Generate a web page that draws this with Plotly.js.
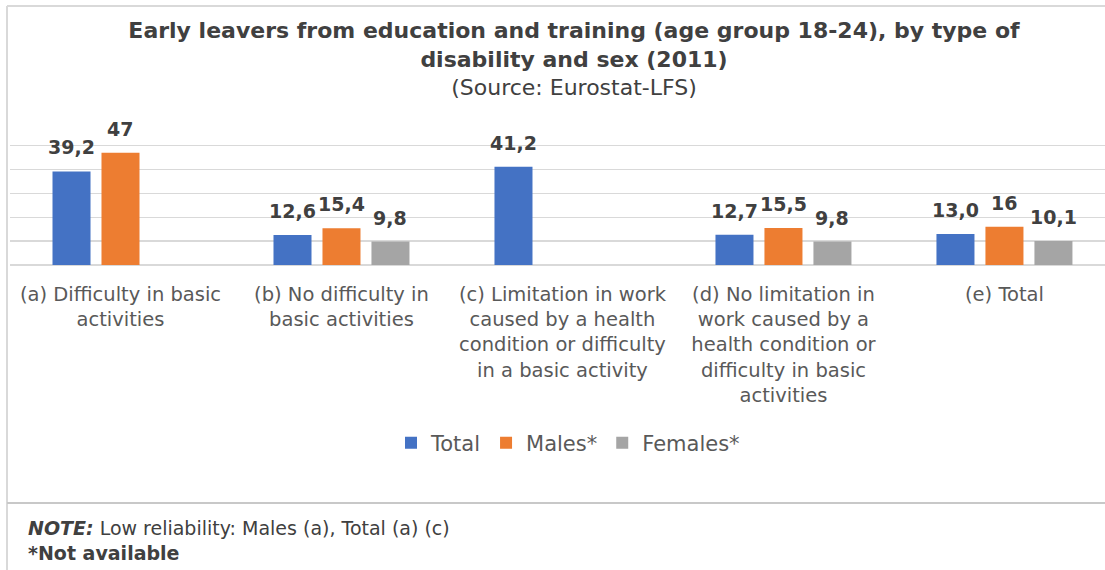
<!DOCTYPE html>
<html>
<head>
<meta charset="utf-8">
<script src="https://cdn.plot.ly/plotly-3.0.1.min.js"></script>
<style>
  html, body { margin: 0; padding: 0; background: #ffffff; }
  #chart { width: 1105px; height: 570px; }
</style>
</head>
<body>
<div id="chart"></div>
<script>
// ---- Data ----
const categories = [
  "(a) Difficulty in basic<br>activities",
  "(b) No difficulty in<br>basic activities",
  "(c) Limitation in work<br>caused by a health<br>condition or difficulty<br>in a basic activity",
  "(d) No limitation in<br>work caused by a<br>health condition or<br>difficulty in basic<br>activities",
  "(e) Total"
];
const seriesNames = ["Total", "Males*", "Females*"];
const totalValues   = [39.2, 12.6, 41.2, 12.7, 13.0];
const malesValues   = [47, 15.4, null, 15.5, 16];
const femalesValues = [null, 9.8, null, 9.8, 10.1];
const totalLabels   = ["39,2", "12,6", "41,2", "12,7", "13,0"];
const malesLabels   = ["47", "15,4", "", "15,5", "16"];
const femalesLabels = ["", "9,8", "", "9,8", "10,1"];
const gridTicks = [0, 10, 20, 30, 40, 50];

// ---- Style ----
const FONT = "DejaVu Sans, Verdana, Tahoma, sans-serif";
const colors = ["#4472C4", "#ED7D31", "#A5A5A5"];
const W = 1105, H = 570;
const M = {l: 10, r: 0, t: 143, b: 305};
const plotW = W - M.l - M.r, plotH = H - M.t - M.b;
const xRange = [-0.5, 4.455];
const yRange = [0, 51.13];
const bargap = 0.335, bargroupgap = 0.224;

const values = [totalValues, malesValues, femalesValues];
const labels = [totalLabels, malesLabels, femalesLabels];

const traces = values.map((vals, i) => ({
  type: "bar",
  name: seriesNames[i],
  x: categories,
  y: vals,
  marker: {color: colors[i]},
  hoverinfo: "skip"
}));

// px helpers for decoration placement (paper coords)
const px2x = px => (px - M.l) / plotW;
const px2y = py => (H - M.b - py) / plotH;

// value labels above bars, positioned through the category axis
const catPx = plotW / (xRange[1] - xRange[0]);
const slotPx = catPx * (1 - bargap) / values.length;
const annotations = [];
values.forEach((vals, i) => {
  vals.forEach((v, j) => {
    if (v === null || labels[i][j] === "") return;
    annotations.push({
      x: categories[j], y: v, xref: "x", yref: "y",
      xshift: (i - (values.length - 1) / 2) * slotPx,
      yshift: 11,
      yanchor: "bottom", xanchor: "center",
      showarrow: false,
      text: "<b>" + labels[i][j] + "</b>",
      font: {family: FONT, size: 19, color: "#404040"}
    });
  });
});

annotations.push({
  xref: "paper", yref: "paper", x: px2x(26), y: px2y(528),
  xanchor: "left", yanchor: "middle", showarrow: false,
  text: "<b><i>NOTE:</i></b> Low reliability: Males (a), Total (a) (c)",
  font: {family: FONT, size: 19, color: "#404040"}
});
annotations.push({
  xref: "paper", yref: "paper", x: px2x(26), y: px2y(553),
  xanchor: "left", yanchor: "middle", showarrow: false,
  text: "<b>*Not available</b>",
  font: {family: FONT, size: 19, color: "#404040"}
});

const lineStyle = {color: "#d9d9d9", width: 2};
const shapes = [
  {type: "line", xref: "paper", yref: "paper", x0: px2x(7), x1: px2x(7), y0: px2y(6), y1: px2y(572), line: lineStyle},
  {type: "line", xref: "paper", yref: "paper", x0: px2x(7), x1: px2x(1106), y0: px2y(6), y1: px2y(6), line: lineStyle},
  {type: "line", xref: "paper", yref: "paper", x0: px2x(7), x1: px2x(1106), y0: px2y(503), y1: px2y(503), line: {color: "#c8c8c8", width: 2}}
];

const layout = {
  width: W, height: H,
  margin: M,
  paper_bgcolor: "#ffffff",
  plot_bgcolor: "#ffffff",
  font: {family: FONT, color: "#595959"},
  title: {
    text: "<b>Early leavers from education and training (age group 18-24), by type of</b><br><b>disability and sex (2011)</b><br>(Source: Eurostat-LFS)",
    x: 574 / W, xref: "container", xanchor: "center",
    y: 1 - 38 / H, yref: "container", yanchor: "top",
    font: {family: FONT, size: 22, color: "#404040"}
  },
  barmode: "group",
  bargap: bargap,
  bargroupgap: bargroupgap,
  xaxis: {
    type: "category",
    range: xRange,
    showgrid: false,
    showline: false,
    zeroline: false,
    ticks: "",
    tickfont: {family: FONT, size: 19.5, color: "#595959"},
    ticklabelstandoff: 15,
    fixedrange: true
  },
  yaxis: {
    range: yRange,
    tickvals: gridTicks,
    showticklabels: false,
    showgrid: true,
    gridcolor: "#d9d9d9",
    gridwidth: 1.5,
    zeroline: true,
    zerolinecolor: "#d9d9d9",
    zerolinewidth: 1.5,
    showline: false,
    ticks: "",
    fixedrange: true
  },
  showlegend: true,
  legend: {
    orientation: "h",
    x: px2x(568), xanchor: "center",
    y: px2y(443), yanchor: "middle",
    font: {family: FONT, size: 21, color: "#595959"},
    bgcolor: "rgba(0,0,0,0)"
  },
  annotations: annotations,
  shapes: shapes
};

Plotly.newPlot("chart", traces, layout, {staticPlot: true, displayModeBar: false});
</script>
</body>
</html>
